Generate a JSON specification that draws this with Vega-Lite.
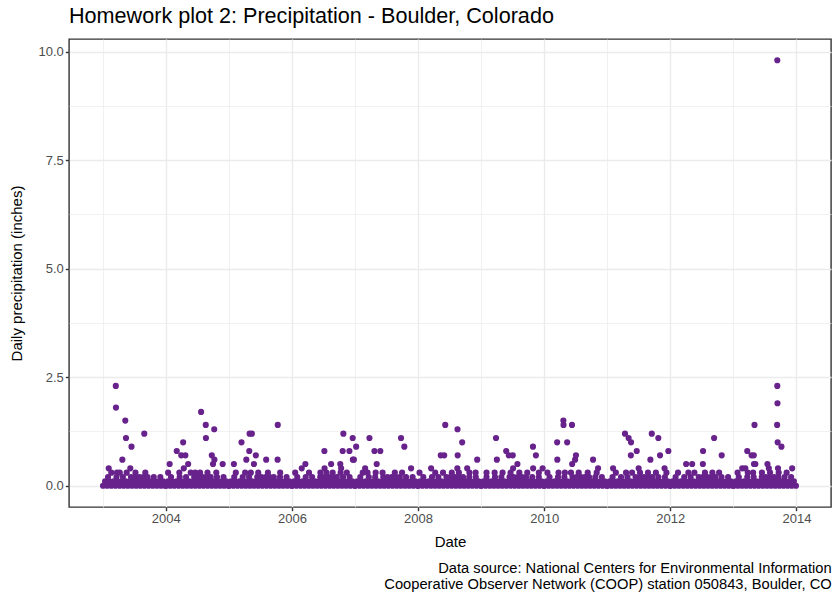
{
"$schema": "https://vega.github.io/schema/vega-lite/v6.json",
"background": "white",
"padding": {"left": 8, "top": 5, "right": 8, "bottom": 4},
"title": {"text": ["Data source:  National Centers for Environmental Information", "Cooperative Observer Network (COOP) station 050843,  Boulder, CO"], "orient": "bottom", "anchor": "end", "align": "right", "fontSize": 14.7, "fontWeight": "normal", "color": "black", "font": "Liberation Sans", "lineHeight": 16, "offset": 11},
"vconcat": [{
"width": 762,
"height": 468,
"title": {"text": "Homework plot 2: Precipitation - Boulder, Colorado", "anchor": "start", "frame": "group", "fontSize": 21.6, "fontWeight": "normal", "color": "black", "font": "Liberation Sans", "baseline": "bottom", "offset": -11},
"data": {"values": [
{"date":"2003-01-03","precip":0},{"date":"2003-01-27","precip":0},{"date":"2003-02-20","precip":0},{"date":"2003-03-16","precip":0},{"date":"2003-04-09","precip":0},{"date":"2003-05-03","precip":0},{"date":"2003-05-27","precip":0},{"date":"2003-06-20","precip":0},{"date":"2003-07-14","precip":0},{"date":"2003-08-07","precip":0},{"date":"2003-08-31","precip":0},{"date":"2003-09-24","precip":0},{"date":"2003-10-18","precip":0},{"date":"2003-11-11","precip":0},{"date":"2003-12-05","precip":0},{"date":"2003-12-29","precip":0},
{"date":"2003-01-15","precip":0.1},{"date":"2003-02-08","precip":0.1},{"date":"2003-03-04","precip":0.1},{"date":"2003-03-28","precip":0.1},{"date":"2003-04-21","precip":0.1},{"date":"2003-05-15","precip":0.1},{"date":"2003-06-08","precip":0.1},{"date":"2003-07-02","precip":0.1},{"date":"2003-07-26","precip":0.1},{"date":"2003-08-19","precip":0.1},{"date":"2003-09-12","precip":0.1},{"date":"2003-10-06","precip":0.1},{"date":"2003-10-30","precip":0.1},{"date":"2003-11-23","precip":0.1},{"date":"2003-12-17","precip":0.1},
{"date":"2003-02-01","precip":0.2},{"date":"2003-03-22","precip":0.2},{"date":"2003-04-28","precip":0.2},{"date":"2003-06-14","precip":0.2},{"date":"2003-07-08","precip":0.2},{"date":"2003-08-02","precip":0.2},{"date":"2003-08-25","precip":0.2},{"date":"2003-09-18","precip":0.2},{"date":"2003-10-24","precip":0.2},{"date":"2003-12-01","precip":0.2},
{"date":"2003-02-20","precip":0.3},{"date":"2003-03-25","precip":0.3},{"date":"2003-04-10","precip":0.3},{"date":"2003-05-20","precip":0.3},{"date":"2003-07-10","precip":0.3},{"date":"2003-09-05","precip":0.3},
{"date":"2004-01-03","precip":0},{"date":"2004-01-27","precip":0},{"date":"2004-02-20","precip":0},{"date":"2004-03-16","precip":0},{"date":"2004-04-09","precip":0},{"date":"2004-05-03","precip":0},{"date":"2004-05-27","precip":0},{"date":"2004-06-20","precip":0},{"date":"2004-07-14","precip":0},{"date":"2004-08-07","precip":0},{"date":"2004-08-31","precip":0},{"date":"2004-09-24","precip":0},{"date":"2004-10-18","precip":0},{"date":"2004-11-11","precip":0},{"date":"2004-12-05","precip":0},{"date":"2004-12-29","precip":0},
{"date":"2004-01-15","precip":0.1},{"date":"2004-02-08","precip":0.1},{"date":"2004-03-04","precip":0.1},{"date":"2004-03-28","precip":0.1},{"date":"2004-04-21","precip":0.1},{"date":"2004-05-15","precip":0.1},{"date":"2004-06-08","precip":0.1},{"date":"2004-07-02","precip":0.1},{"date":"2004-07-26","precip":0.1},{"date":"2004-08-19","precip":0.1},{"date":"2004-09-12","precip":0.1},{"date":"2004-10-06","precip":0.1},{"date":"2004-10-30","precip":0.1},{"date":"2004-11-23","precip":0.1},{"date":"2004-12-17","precip":0.1},
{"date":"2004-02-01","precip":0.2},{"date":"2004-03-22","precip":0.2},{"date":"2004-04-28","precip":0.2},{"date":"2004-06-14","precip":0.2},{"date":"2004-07-08","precip":0.2},{"date":"2004-08-02","precip":0.2},{"date":"2004-08-25","precip":0.2},{"date":"2004-09-18","precip":0.2},{"date":"2004-10-24","precip":0.2},{"date":"2004-12-01","precip":0.2},
{"date":"2004-01-15","precip":0.3},{"date":"2004-03-20","precip":0.3},{"date":"2004-05-25","precip":0.3},{"date":"2004-06-20","precip":0.3},{"date":"2004-07-18","precip":0.3},{"date":"2004-08-30","precip":0.3},{"date":"2004-10-20","precip":0.3},
{"date":"2005-01-03","precip":0},{"date":"2005-01-27","precip":0},{"date":"2005-02-20","precip":0},{"date":"2005-03-16","precip":0},{"date":"2005-04-09","precip":0},{"date":"2005-05-03","precip":0},{"date":"2005-05-27","precip":0},{"date":"2005-06-20","precip":0},{"date":"2005-07-14","precip":0},{"date":"2005-08-07","precip":0},{"date":"2005-08-31","precip":0},{"date":"2005-09-24","precip":0},{"date":"2005-10-18","precip":0},{"date":"2005-11-11","precip":0},{"date":"2005-12-05","precip":0},{"date":"2005-12-29","precip":0},
{"date":"2005-01-15","precip":0.1},{"date":"2005-02-08","precip":0.1},{"date":"2005-03-04","precip":0.1},{"date":"2005-03-28","precip":0.1},{"date":"2005-04-21","precip":0.1},{"date":"2005-05-15","precip":0.1},{"date":"2005-06-08","precip":0.1},{"date":"2005-07-02","precip":0.1},{"date":"2005-07-26","precip":0.1},{"date":"2005-08-19","precip":0.1},{"date":"2005-09-12","precip":0.1},{"date":"2005-10-06","precip":0.1},{"date":"2005-10-30","precip":0.1},{"date":"2005-11-23","precip":0.1},{"date":"2005-12-17","precip":0.1},
{"date":"2005-02-01","precip":0.2},{"date":"2005-03-22","precip":0.2},{"date":"2005-04-28","precip":0.2},{"date":"2005-06-14","precip":0.2},{"date":"2005-07-08","precip":0.2},{"date":"2005-08-02","precip":0.2},{"date":"2005-08-25","precip":0.2},{"date":"2005-09-18","precip":0.2},{"date":"2005-10-24","precip":0.2},{"date":"2005-12-01","precip":0.2},
{"date":"2005-02-10","precip":0.3},{"date":"2005-04-05","precip":0.3},{"date":"2005-05-08","precip":0.3},{"date":"2005-06-20","precip":0.3},{"date":"2005-08-15","precip":0.3},{"date":"2005-10-25","precip":0.3},
{"date":"2006-01-03","precip":0},{"date":"2006-01-27","precip":0},{"date":"2006-02-20","precip":0},{"date":"2006-03-16","precip":0},{"date":"2006-04-09","precip":0},{"date":"2006-05-03","precip":0},{"date":"2006-05-27","precip":0},{"date":"2006-06-20","precip":0},{"date":"2006-07-14","precip":0},{"date":"2006-08-07","precip":0},{"date":"2006-08-31","precip":0},{"date":"2006-09-24","precip":0},{"date":"2006-10-18","precip":0},{"date":"2006-11-11","precip":0},{"date":"2006-12-05","precip":0},{"date":"2006-12-29","precip":0},
{"date":"2006-01-15","precip":0.1},{"date":"2006-02-08","precip":0.1},{"date":"2006-03-04","precip":0.1},{"date":"2006-03-28","precip":0.1},{"date":"2006-04-21","precip":0.1},{"date":"2006-05-15","precip":0.1},{"date":"2006-06-08","precip":0.1},{"date":"2006-07-02","precip":0.1},{"date":"2006-07-26","precip":0.1},{"date":"2006-08-19","precip":0.1},{"date":"2006-09-12","precip":0.1},{"date":"2006-10-06","precip":0.1},{"date":"2006-10-30","precip":0.1},{"date":"2006-11-23","precip":0.1},{"date":"2006-12-17","precip":0.1},
{"date":"2006-02-01","precip":0.2},{"date":"2006-03-22","precip":0.2},{"date":"2006-04-28","precip":0.2},{"date":"2006-06-14","precip":0.2},{"date":"2006-07-08","precip":0.2},{"date":"2006-08-02","precip":0.2},{"date":"2006-08-25","precip":0.2},{"date":"2006-09-18","precip":0.2},{"date":"2006-10-24","precip":0.2},{"date":"2006-12-01","precip":0.2},
{"date":"2006-01-20","precip":0.3},{"date":"2006-04-10","precip":0.3},{"date":"2006-06-15","precip":0.3},{"date":"2006-07-20","precip":0.3},{"date":"2006-08-25","precip":0.3},{"date":"2006-10-10","precip":0.3},{"date":"2006-11-15","precip":0.3},
{"date":"2007-01-03","precip":0},{"date":"2007-01-27","precip":0},{"date":"2007-02-20","precip":0},{"date":"2007-03-16","precip":0},{"date":"2007-04-09","precip":0},{"date":"2007-05-03","precip":0},{"date":"2007-05-27","precip":0},{"date":"2007-06-20","precip":0},{"date":"2007-07-14","precip":0},{"date":"2007-08-07","precip":0},{"date":"2007-08-31","precip":0},{"date":"2007-09-24","precip":0},{"date":"2007-10-18","precip":0},{"date":"2007-11-11","precip":0},{"date":"2007-12-05","precip":0},{"date":"2007-12-29","precip":0},
{"date":"2007-01-15","precip":0.1},{"date":"2007-02-08","precip":0.1},{"date":"2007-03-04","precip":0.1},{"date":"2007-03-28","precip":0.1},{"date":"2007-04-21","precip":0.1},{"date":"2007-05-15","precip":0.1},{"date":"2007-06-08","precip":0.1},{"date":"2007-07-02","precip":0.1},{"date":"2007-07-26","precip":0.1},{"date":"2007-08-19","precip":0.1},{"date":"2007-09-12","precip":0.1},{"date":"2007-10-06","precip":0.1},{"date":"2007-10-30","precip":0.1},{"date":"2007-11-23","precip":0.1},{"date":"2007-12-17","precip":0.1},
{"date":"2007-02-01","precip":0.2},{"date":"2007-03-22","precip":0.2},{"date":"2007-04-28","precip":0.2},{"date":"2007-06-14","precip":0.2},{"date":"2007-07-08","precip":0.2},{"date":"2007-08-02","precip":0.2},{"date":"2007-08-25","precip":0.2},{"date":"2007-09-18","precip":0.2},{"date":"2007-10-24","precip":0.2},{"date":"2007-12-01","precip":0.2},
{"date":"2007-02-15","precip":0.3},{"date":"2007-03-15","precip":0.3},{"date":"2007-05-01","precip":0.3},{"date":"2007-06-10","precip":0.3},{"date":"2007-08-20","precip":0.3},{"date":"2007-10-01","precip":0.3},
{"date":"2008-01-03","precip":0},{"date":"2008-01-27","precip":0},{"date":"2008-02-20","precip":0},{"date":"2008-03-16","precip":0},{"date":"2008-04-09","precip":0},{"date":"2008-05-03","precip":0},{"date":"2008-05-27","precip":0},{"date":"2008-06-20","precip":0},{"date":"2008-07-14","precip":0},{"date":"2008-08-07","precip":0},{"date":"2008-08-31","precip":0},{"date":"2008-09-24","precip":0},{"date":"2008-10-18","precip":0},{"date":"2008-11-11","precip":0},{"date":"2008-12-05","precip":0},{"date":"2008-12-29","precip":0},
{"date":"2008-01-15","precip":0.1},{"date":"2008-02-08","precip":0.1},{"date":"2008-03-04","precip":0.1},{"date":"2008-03-28","precip":0.1},{"date":"2008-04-21","precip":0.1},{"date":"2008-05-15","precip":0.1},{"date":"2008-06-08","precip":0.1},{"date":"2008-07-02","precip":0.1},{"date":"2008-07-26","precip":0.1},{"date":"2008-08-19","precip":0.1},{"date":"2008-09-12","precip":0.1},{"date":"2008-10-06","precip":0.1},{"date":"2008-10-30","precip":0.1},{"date":"2008-11-23","precip":0.1},{"date":"2008-12-17","precip":0.1},
{"date":"2008-02-01","precip":0.2},{"date":"2008-03-22","precip":0.2},{"date":"2008-04-28","precip":0.2},{"date":"2008-06-14","precip":0.2},{"date":"2008-07-08","precip":0.2},{"date":"2008-08-02","precip":0.2},{"date":"2008-08-25","precip":0.2},{"date":"2008-09-18","precip":0.2},{"date":"2008-10-24","precip":0.2},{"date":"2008-12-01","precip":0.2},
{"date":"2008-01-10","precip":0.3},{"date":"2008-04-10","precip":0.3},{"date":"2008-05-25","precip":0.3},{"date":"2008-07-15","precip":0.3},{"date":"2008-08-25","precip":0.3},{"date":"2008-10-25","precip":0.3},{"date":"2008-11-30","precip":0.3},
{"date":"2009-01-03","precip":0},{"date":"2009-01-27","precip":0},{"date":"2009-02-20","precip":0},{"date":"2009-03-16","precip":0},{"date":"2009-04-09","precip":0},{"date":"2009-05-03","precip":0},{"date":"2009-05-27","precip":0},{"date":"2009-06-20","precip":0},{"date":"2009-07-14","precip":0},{"date":"2009-08-07","precip":0},{"date":"2009-08-31","precip":0},{"date":"2009-09-24","precip":0},{"date":"2009-10-18","precip":0},{"date":"2009-11-11","precip":0},{"date":"2009-12-05","precip":0},{"date":"2009-12-29","precip":0},
{"date":"2009-01-15","precip":0.1},{"date":"2009-02-08","precip":0.1},{"date":"2009-03-04","precip":0.1},{"date":"2009-03-28","precip":0.1},{"date":"2009-04-21","precip":0.1},{"date":"2009-05-15","precip":0.1},{"date":"2009-06-08","precip":0.1},{"date":"2009-07-02","precip":0.1},{"date":"2009-07-26","precip":0.1},{"date":"2009-08-19","precip":0.1},{"date":"2009-09-12","precip":0.1},{"date":"2009-10-06","precip":0.1},{"date":"2009-10-30","precip":0.1},{"date":"2009-11-23","precip":0.1},{"date":"2009-12-17","precip":0.1},
{"date":"2009-02-01","precip":0.2},{"date":"2009-03-22","precip":0.2},{"date":"2009-04-28","precip":0.2},{"date":"2009-06-14","precip":0.2},{"date":"2009-07-08","precip":0.2},{"date":"2009-08-02","precip":0.2},{"date":"2009-08-25","precip":0.2},{"date":"2009-09-18","precip":0.2},{"date":"2009-10-24","precip":0.2},{"date":"2009-12-01","precip":0.2},
{"date":"2009-02-01","precip":0.3},{"date":"2009-03-20","precip":0.3},{"date":"2009-05-05","precip":0.3},{"date":"2009-06-20","precip":0.3},{"date":"2009-08-10","precip":0.3},{"date":"2009-09-25","precip":0.3},{"date":"2009-12-01","precip":0.3},
{"date":"2010-01-03","precip":0},{"date":"2010-01-27","precip":0},{"date":"2010-02-20","precip":0},{"date":"2010-03-16","precip":0},{"date":"2010-04-09","precip":0},{"date":"2010-05-03","precip":0},{"date":"2010-05-27","precip":0},{"date":"2010-06-20","precip":0},{"date":"2010-07-14","precip":0},{"date":"2010-08-07","precip":0},{"date":"2010-08-31","precip":0},{"date":"2010-09-24","precip":0},{"date":"2010-10-18","precip":0},{"date":"2010-11-11","precip":0},{"date":"2010-12-05","precip":0},{"date":"2010-12-29","precip":0},
{"date":"2010-01-15","precip":0.1},{"date":"2010-02-08","precip":0.1},{"date":"2010-03-04","precip":0.1},{"date":"2010-03-28","precip":0.1},{"date":"2010-04-21","precip":0.1},{"date":"2010-05-15","precip":0.1},{"date":"2010-06-08","precip":0.1},{"date":"2010-07-02","precip":0.1},{"date":"2010-07-26","precip":0.1},{"date":"2010-08-19","precip":0.1},{"date":"2010-09-12","precip":0.1},{"date":"2010-10-06","precip":0.1},{"date":"2010-10-30","precip":0.1},{"date":"2010-11-23","precip":0.1},{"date":"2010-12-17","precip":0.1},
{"date":"2010-02-01","precip":0.2},{"date":"2010-03-22","precip":0.2},{"date":"2010-04-28","precip":0.2},{"date":"2010-06-14","precip":0.2},{"date":"2010-07-08","precip":0.2},{"date":"2010-08-02","precip":0.2},{"date":"2010-08-25","precip":0.2},{"date":"2010-09-18","precip":0.2},{"date":"2010-10-24","precip":0.2},{"date":"2010-12-01","precip":0.2},
{"date":"2010-01-20","precip":0.3},{"date":"2010-03-25","precip":0.3},{"date":"2010-05-01","precip":0.3},{"date":"2010-06-05","precip":0.3},{"date":"2010-07-20","precip":0.3},{"date":"2010-09-10","precip":0.3},{"date":"2010-11-01","precip":0.3},
{"date":"2011-01-03","precip":0},{"date":"2011-01-27","precip":0},{"date":"2011-02-20","precip":0},{"date":"2011-03-16","precip":0},{"date":"2011-04-09","precip":0},{"date":"2011-05-03","precip":0},{"date":"2011-05-27","precip":0},{"date":"2011-06-20","precip":0},{"date":"2011-07-14","precip":0},{"date":"2011-08-07","precip":0},{"date":"2011-08-31","precip":0},{"date":"2011-09-24","precip":0},{"date":"2011-10-18","precip":0},{"date":"2011-11-11","precip":0},{"date":"2011-12-05","precip":0},{"date":"2011-12-29","precip":0},
{"date":"2011-01-15","precip":0.1},{"date":"2011-02-08","precip":0.1},{"date":"2011-03-04","precip":0.1},{"date":"2011-03-28","precip":0.1},{"date":"2011-04-21","precip":0.1},{"date":"2011-05-15","precip":0.1},{"date":"2011-06-08","precip":0.1},{"date":"2011-07-02","precip":0.1},{"date":"2011-07-26","precip":0.1},{"date":"2011-08-19","precip":0.1},{"date":"2011-09-12","precip":0.1},{"date":"2011-10-06","precip":0.1},{"date":"2011-10-30","precip":0.1},{"date":"2011-11-23","precip":0.1},{"date":"2011-12-17","precip":0.1},
{"date":"2011-02-01","precip":0.2},{"date":"2011-03-22","precip":0.2},{"date":"2011-04-28","precip":0.2},{"date":"2011-06-14","precip":0.2},{"date":"2011-07-08","precip":0.2},{"date":"2011-08-02","precip":0.2},{"date":"2011-08-25","precip":0.2},{"date":"2011-09-18","precip":0.2},{"date":"2011-10-24","precip":0.2},{"date":"2011-12-01","precip":0.2},
{"date":"2011-02-20","precip":0.3},{"date":"2011-04-20","precip":0.3},{"date":"2011-05-25","precip":0.3},{"date":"2011-07-10","precip":0.3},{"date":"2011-08-25","precip":0.3},{"date":"2011-10-10","precip":0.3},{"date":"2011-12-10","precip":0.3},
{"date":"2012-01-03","precip":0},{"date":"2012-01-27","precip":0},{"date":"2012-02-20","precip":0},{"date":"2012-03-16","precip":0},{"date":"2012-04-09","precip":0},{"date":"2012-05-03","precip":0},{"date":"2012-05-27","precip":0},{"date":"2012-06-20","precip":0},{"date":"2012-07-14","precip":0},{"date":"2012-08-07","precip":0},{"date":"2012-08-31","precip":0},{"date":"2012-09-24","precip":0},{"date":"2012-10-18","precip":0},{"date":"2012-11-11","precip":0},{"date":"2012-12-05","precip":0},{"date":"2012-12-29","precip":0},
{"date":"2012-01-15","precip":0.1},{"date":"2012-02-08","precip":0.1},{"date":"2012-03-04","precip":0.1},{"date":"2012-03-28","precip":0.1},{"date":"2012-04-21","precip":0.1},{"date":"2012-05-15","precip":0.1},{"date":"2012-06-08","precip":0.1},{"date":"2012-07-02","precip":0.1},{"date":"2012-07-26","precip":0.1},{"date":"2012-08-19","precip":0.1},{"date":"2012-09-12","precip":0.1},{"date":"2012-10-06","precip":0.1},{"date":"2012-10-30","precip":0.1},{"date":"2012-11-23","precip":0.1},{"date":"2012-12-17","precip":0.1},
{"date":"2012-02-01","precip":0.2},{"date":"2012-03-22","precip":0.2},{"date":"2012-04-28","precip":0.2},{"date":"2012-06-14","precip":0.2},{"date":"2012-07-08","precip":0.2},{"date":"2012-08-02","precip":0.2},{"date":"2012-08-25","precip":0.2},{"date":"2012-09-18","precip":0.2},{"date":"2012-10-24","precip":0.2},{"date":"2012-12-01","precip":0.2},
{"date":"2012-02-15","precip":0.3},{"date":"2012-04-15","precip":0.3},{"date":"2012-05-20","precip":0.3},{"date":"2012-07-20","precip":0.3},{"date":"2012-09-01","precip":0.3},{"date":"2012-10-10","precip":0.3},
{"date":"2013-01-03","precip":0},{"date":"2013-01-27","precip":0},{"date":"2013-02-20","precip":0},{"date":"2013-03-16","precip":0},{"date":"2013-04-09","precip":0},{"date":"2013-05-03","precip":0},{"date":"2013-05-27","precip":0},{"date":"2013-06-20","precip":0},{"date":"2013-07-14","precip":0},{"date":"2013-08-07","precip":0},{"date":"2013-08-31","precip":0},{"date":"2013-09-24","precip":0},{"date":"2013-10-18","precip":0},{"date":"2013-11-11","precip":0},{"date":"2013-12-05","precip":0},{"date":"2013-12-29","precip":0},
{"date":"2013-01-15","precip":0.1},{"date":"2013-02-08","precip":0.1},{"date":"2013-03-04","precip":0.1},{"date":"2013-03-28","precip":0.1},{"date":"2013-04-21","precip":0.1},{"date":"2013-05-15","precip":0.1},{"date":"2013-06-08","precip":0.1},{"date":"2013-07-02","precip":0.1},{"date":"2013-07-26","precip":0.1},{"date":"2013-08-19","precip":0.1},{"date":"2013-09-12","precip":0.1},{"date":"2013-10-06","precip":0.1},{"date":"2013-10-30","precip":0.1},{"date":"2013-11-23","precip":0.1},{"date":"2013-12-17","precip":0.1},
{"date":"2013-02-01","precip":0.2},{"date":"2013-03-22","precip":0.2},{"date":"2013-04-28","precip":0.2},{"date":"2013-06-14","precip":0.2},{"date":"2013-07-08","precip":0.2},{"date":"2013-08-02","precip":0.2},{"date":"2013-08-25","precip":0.2},{"date":"2013-09-18","precip":0.2},{"date":"2013-10-24","precip":0.2},{"date":"2013-12-01","precip":0.2},
{"date":"2013-01-25","precip":0.3},{"date":"2013-03-25","precip":0.3},{"date":"2013-04-25","precip":0.3},{"date":"2013-06-15","precip":0.3},{"date":"2013-08-01","precip":0.3},{"date":"2013-09-20","precip":0.3},{"date":"2013-11-05","precip":0.3},
{"date":"2003-02-05","precip":0.4},{"date":"2003-03-18","precip":2.3},{"date":"2003-03-19","precip":1.8},{"date":"2003-04-25","precip":0.6},{"date":"2003-05-12","precip":1.5},{"date":"2003-05-16","precip":1.1},{"date":"2003-06-10","precip":0.4},{"date":"2003-06-17","precip":0.9},{"date":"2003-08-30","precip":1.2},
{"date":"2004-01-24","precip":0.5},{"date":"2004-03-05","precip":0.8},{"date":"2004-03-31","precip":0.7},{"date":"2004-04-11","precip":1.0},{"date":"2004-04-15","precip":0.4},{"date":"2004-04-24","precip":0.7},{"date":"2004-05-10","precip":0.5},{"date":"2004-07-24","precip":1.7},{"date":"2004-08-20","precip":1.4},{"date":"2004-08-21","precip":1.1},{"date":"2004-09-24","precip":0.7},{"date":"2004-10-01","precip":0.5},{"date":"2004-10-08","precip":1.3},{"date":"2004-10-09","precip":0.6},{"date":"2004-11-26","precip":0.5},
{"date":"2005-01-30","precip":0.5},{"date":"2005-03-15","precip":1.0},{"date":"2005-04-12","precip":0.6},{"date":"2005-04-29","precip":0.8},{"date":"2005-05-01","precip":1.2},{"date":"2005-05-14","precip":1.2},{"date":"2005-05-26","precip":0.5},{"date":"2005-06-06","precip":0.7},{"date":"2005-08-05","precip":0.6},{"date":"2005-10-10","precip":0.6},{"date":"2005-10-11","precip":1.4},
{"date":"2006-02-27","precip":0.4},{"date":"2006-03-20","precip":0.5},{"date":"2006-07-08","precip":0.8},{"date":"2006-07-09","precip":0.4},{"date":"2006-08-16","precip":0.5},{"date":"2006-10-08","precip":0.5},{"date":"2006-10-13","precip":0.4},{"date":"2006-10-22","precip":0.8},{"date":"2006-10-26","precip":1.2},{"date":"2006-11-30","precip":0.8},{"date":"2006-12-19","precip":1.1},{"date":"2006-12-20","precip":0.6},{"date":"2006-12-26","precip":0.6},
{"date":"2007-01-08","precip":0.9},{"date":"2007-03-01","precip":0.4},{"date":"2007-03-26","precip":1.1},{"date":"2007-04-24","precip":0.8},{"date":"2007-05-07","precip":0.5},{"date":"2007-05-28","precip":0.8},{"date":"2007-09-25","precip":1.1},{"date":"2007-10-14","precip":0.9},{"date":"2007-11-22","precip":0.4},
{"date":"2008-03-17","precip":0.4},{"date":"2008-05-12","precip":0.7},{"date":"2008-06-01","precip":0.7},{"date":"2008-06-07","precip":1.4},{"date":"2008-08-16","precip":0.4},{"date":"2008-08-17","precip":1.3},{"date":"2008-08-18","precip":0.7},{"date":"2008-09-13","precip":1.0},{"date":"2008-10-12","precip":0.4},{"date":"2008-12-09","precip":0.6},
{"date":"2009-03-28","precip":1.1},{"date":"2009-04-02","precip":0.6},{"date":"2009-05-26","precip":0.8},{"date":"2009-06-10","precip":0.7},{"date":"2009-07-03","precip":0.7},{"date":"2009-07-05","precip":0.4},{"date":"2009-07-30","precip":0.5},{"date":"2009-10-28","precip":0.9},{"date":"2009-10-29","precip":0.4},{"date":"2009-11-14","precip":0.7},{"date":"2009-12-23","precip":0.4},
{"date":"2010-03-17","precip":1.0},{"date":"2010-03-18","precip":0.6},{"date":"2010-04-22","precip":1.5},{"date":"2010-04-23","precip":1.4},{"date":"2010-05-14","precip":1.0},{"date":"2010-06-11","precip":1.4},{"date":"2010-06-12","precip":0.5},{"date":"2010-06-29","precip":0.6},{"date":"2010-07-04","precip":0.7},{"date":"2010-10-11","precip":0.6},{"date":"2010-11-09","precip":0.4},
{"date":"2011-02-04","precip":0.4},{"date":"2011-04-14","precip":1.2},{"date":"2011-05-05","precip":1.1},{"date":"2011-05-18","precip":0.7},{"date":"2011-05-19","precip":1.0},{"date":"2011-06-21","precip":0.8},{"date":"2011-07-02","precip":0.4},{"date":"2011-09-08","precip":0.6},{"date":"2011-09-16","precip":1.2},{"date":"2011-10-24","precip":1.1},{"date":"2011-11-03","precip":0.7},{"date":"2011-11-29","precip":0.4},{"date":"2011-12-21","precip":0.8},
{"date":"2012-04-02","precip":0.5},{"date":"2012-05-07","precip":0.5},{"date":"2012-07-08","precip":0.5},{"date":"2012-07-09","precip":0.8},{"date":"2012-09-11","precip":1.1},{"date":"2012-10-25","precip":0.7},
{"date":"2013-02-21","precip":0.4},{"date":"2013-03-11","precip":0.4},{"date":"2013-03-22","precip":0.8},{"date":"2013-04-16","precip":0.7},{"date":"2013-04-29","precip":0.7},{"date":"2013-04-30","precip":0.5},{"date":"2013-05-03","precip":1.4},{"date":"2013-05-08","precip":0.5},{"date":"2013-07-17","precip":0.5},{"date":"2013-07-25","precip":0.4},{"date":"2013-09-11","precip":1.4},{"date":"2013-09-12","precip":2.3},{"date":"2013-09-12","precip":9.8},{"date":"2013-09-13","precip":1.9},{"date":"2013-09-14","precip":1.0},{"date":"2013-09-16","precip":0.4},{"date":"2013-10-06","precip":0.9},{"date":"2013-12-07","precip":0.4}
]},
"mark": {"type": "point", "filled": true, "shape": "circle", "size": 38, "color": "#68228B", "opacity": 1, "strokeWidth": 0},
"encoding": {
"x": {"field": "date", "type": "temporal", "title": "Date",
 "scale": {"type": "utc", "domain": [{"year": 2002, "month": 6, "date": 20, "utc": true}, {"year": 2014, "month": 7, "date": 20, "utc": true}]},
 "axis": {"values": [{"year": 2003, "month": 1, "date": 1, "utc": true}, {"year": 2004, "month": 1, "date": 1, "utc": true}, {"year": 2005, "month": 1, "date": 1, "utc": true}, {"year": 2006, "month": 1, "date": 1, "utc": true}, {"year": 2007, "month": 1, "date": 1, "utc": true}, {"year": 2008, "month": 1, "date": 1, "utc": true}, {"year": 2009, "month": 1, "date": 1, "utc": true}, {"year": 2010, "month": 1, "date": 1, "utc": true}, {"year": 2011, "month": 1, "date": 1, "utc": true}, {"year": 2012, "month": 1, "date": 1, "utc": true}, {"year": 2013, "month": 1, "date": 1, "utc": true}, {"year": 2014, "month": 1, "date": 1, "utc": true}],
  "labelExpr": "utcyear(datum.value) % 2 == 0 ? utcFormat(datum.value, '%Y') : ''",
  "labelOverlap": false,
  "tickOpacity": {"condition": {"test": "utcyear(datum.value) % 2 == 1", "value": 0}, "value": 1},
  "gridWidth": {"condition": {"test": "utcyear(datum.value) % 2 == 1", "value": 0.7}, "value": 1.4},
  "titlePadding": 9}},
"y": {"field": "precip", "type": "quantitative", "title": "Daily precipitation (inches)",
 "scale": {"domain": [-0.49, 10.29], "nice": false, "zero": false},
 "axis": {"values": [0, 1.25, 2.5, 3.75, 5, 6.25, 7.5, 8.75, 10],
  "labelExpr": "datum.value % 2.5 == 0 ? format(datum.value, '.1f') : ''",
  "labelOverlap": false,
  "tickOpacity": {"condition": {"test": "datum.value % 2.5 != 0", "value": 0}, "value": 1},
  "gridWidth": {"condition": {"test": "datum.value % 2.5 != 0", "value": 0.7}, "value": 1.4},
  "titlePadding": 13.5}}
}
}],
"config": {
"font": "Liberation Sans",
"view": {"stroke": "#333333", "strokeWidth": 1.4},
"axis": {"domain": false, "tickColor": "#333333", "tickWidth": 1.4, "tickSize": 3.7, "labelColor": "#4D4D4D", "labelFontSize": 13, "labelFont": "Liberation Sans", "labelPadding": 2, "titleFont": "Liberation Sans", "titleFontSize": 15, "titleFontWeight": "normal", "titleColor": "black", "gridColor": "#EBEBEB"}
}
}
